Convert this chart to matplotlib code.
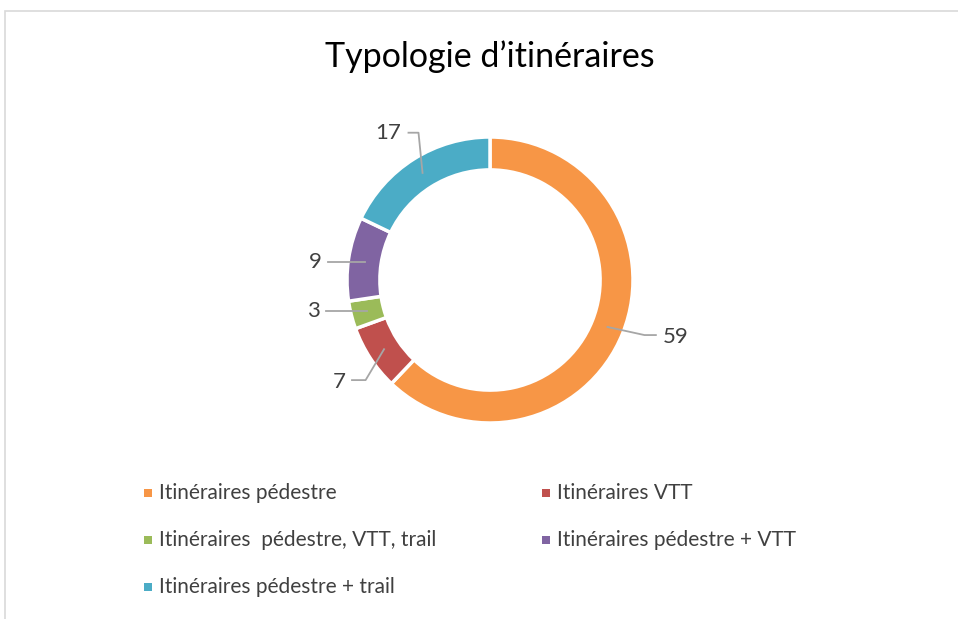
import numpy as np
import matplotlib
matplotlib.use('Agg')
import matplotlib.pyplot as plt
from matplotlib.patches import Rectangle

plt.rcParams['font.family'] = ['Lato', 'DejaVu Sans']

# data
categories = ['Itinéraires pédestre', 'Itinéraires VTT', 'Itinéraires  pédestre, VTT, trail',
              'Itinéraires pédestre + VTT', 'Itinéraires pédestre + trail']
values = [59, 7, 3, 9, 17]
colors = ['#F79646', '#C0504D', '#9BBB59', '#8064A2', '#4BACC6']
title = 'Typologie d\u2019itinéraires'

W, H = 958, 619
fig = plt.figure(figsize=(W / 100, H / 100), dpi=100)

# chart border (light grey)
fig.patches.append(Rectangle((5 / W, -0.1), 1.2, (H - 11) / H + 0.1, transform=fig.transFigure,
                             fill=False, edgecolor='#d9d9d9', linewidth=1.2))

# donut axes: center (490, 280) px, radius 143 px
cx, cy, R = 490, 280, 143
ax = fig.add_axes([(cx - R) / W, (H - cy - R) / H, 2 * R / W, 2 * R / H])
wedges, _ = ax.pie(values, colors=colors, startangle=90, counterclock=False, radius=1,
                   wedgeprops=dict(width=0.23, edgecolor='white', linewidth=2.5))
ax.set_xlim(-1, 1)
ax.set_ylim(-1, 1)
ax.axis('off')

# leader lines + labels (layout positions in data units)
elbows = [[(1.08, -0.385), (1.16, -0.385)],
          [(-0.87, -0.70), (-0.965, -0.70)],
          [(-1.15, -0.217)],
          [(-1.13, 0.126)],
          [(-0.50, 1.03), (-0.57, 1.03)]]
text_pos = [(1.21, -0.40, 'left'), (-1.01, -0.71, 'right'), (-1.19, -0.22, 'right'),
            (-1.18, 0.126, 'right'), (-0.62, 1.03, 'right')]
for w, v, el, (tx, ty, ha) in zip(wedges, values, elbows, text_pos):
    mid = np.deg2rad((w.theta1 + w.theta2) / 2)
    ax_ = 0.885 * np.cos(mid)
    ay_ = 0.885 * np.sin(mid)
    pts = [(ax_, ay_)] + el
    if len(el) == 1:
        pts = [(ax_, el[0][1])] + el
    xs, ys = zip(*pts)
    ax.plot(xs, ys, color='#a6a6a6', lw=1.3, clip_on=False)
    ax.text(tx, ty, str(v), ha=ha, va='center', fontsize=16, color='#404040', clip_on=False)

fig.text(490 / W, 1 - 57 / H, title, ha='center', va='center', fontsize=24.5, color='#000000')

# legend, row-wise in two columns
leg_x = [148, 546]
leg_y = [493, 540, 587]
for i, (lab, c) in enumerate(zip(categories, colors)):
    px = leg_x[i % 2]
    py = leg_y[i // 2]
    s = 8
    fig.patches.append(Rectangle(((px - s / 2) / W, (H - py - s / 2) / H), s / W, s / H,
                                 transform=fig.transFigure, facecolor=c, edgecolor='none'))
    fig.text((px + 11) / W, 1 - py / H, lab, ha='left', va='center', fontsize=15, color='#404040')

fig.savefig('out.png', dpi=100, facecolor='white')
